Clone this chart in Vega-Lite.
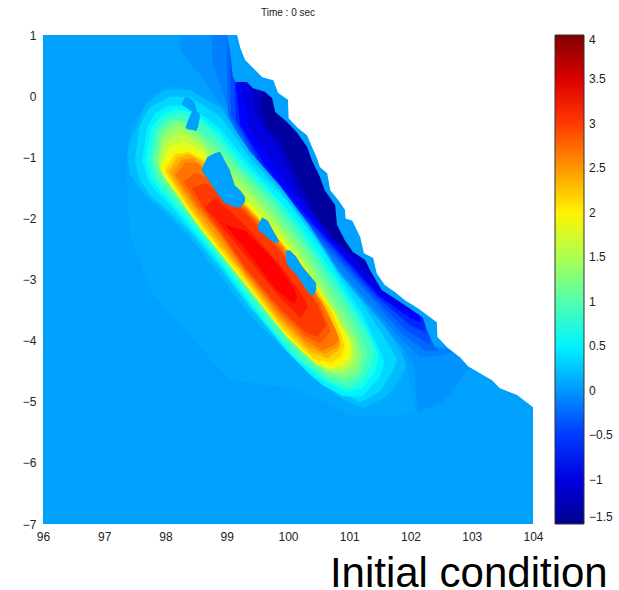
{"$schema":"https://vega.github.io/schema/vega-lite/v6.json","width":490,"height":489,"autosize":{"type":"none"},"padding":{"left":43,"top":35,"right":86,"bottom":66},"background":"white","view":{"stroke":null},"title":{"text":"Time : 0 sec","font":"Liberation Sans","fontSize":10,"fontWeight":"normal","color":"#222","anchor":"middle","offset":11},
"datasets":{"bands":[
{"b":"bg","v":0.05,"x":96,"y":-7,"t":1},{"b":"bg","v":0.05,"x":104,"y":-7,"t":1},
{"b":"h10","v":0.1,"x":97.36,"y":-1.13,"t":-1.13},{"b":"h10","v":0.1,"x":97.42,"y":-2.27,"t":-0.55},{"b":"h10","v":0.1,"x":97.75,"y":-3.17,"t":0.02},{"b":"h10","v":0.1,"x":98.16,"y":-3.66,"t":0.18},{"b":"h10","v":0.1,"x":99.05,"y":-4.65,"t":-0.23},{"b":"h10","v":0.1,"x":100.11,"y":-4.78,"t":-1.7},{"b":"h10","v":0.1,"x":101.01,"y":-5.22,"t":-3.34},{"b":"h10","v":0.1,"x":101.83,"y":-5.22,"t":-3.99},{"b":"h10","v":0.1,"x":102.09,"y":-5.17,"t":-5.17},
{"b":"n002","v":-0.02,"x":98.24,"y":0.75,"t":1},{"b":"n002","v":-0.02,"x":98.56,"y":0.35,"t":1},{"b":"n002","v":-0.02,"x":98.97,"y":-0.23,"t":1},{"b":"n002","v":-0.02,"x":99.38,"y":-1.05,"t":1},{"b":"n002","v":-0.02,"x":100.2,"y":-2.19,"t":1},{"b":"n002","v":-0.02,"x":101.83,"y":-4.07,"t":1},{"b":"n002","v":-0.02,"x":102.06,"y":-4.4,"t":1},{"b":"n002","v":-0.02,"x":102.11,"y":-5.17,"t":1},{"b":"n002","v":-0.02,"x":102.53,"y":-5.01,"t":1},{"b":"n002","v":-0.02,"x":102.94,"y":-4.48,"t":1},{"b":"n002","v":-0.02,"x":102.97,"y":-4.45,"t":1},
{"b":"n012","v":-0.12,"x":98.76,"y":0.59,"t":1},{"b":"n012","v":-0.12,"x":98.97,"y":-0.06,"t":1},{"b":"n012","v":-0.12,"x":99.38,"y":-1.01,"t":1},{"b":"n012","v":-0.12,"x":100.2,"y":-2.11,"t":1},{"b":"n012","v":-0.12,"x":101.83,"y":-3.96,"t":1},{"b":"n012","v":-0.12,"x":102.16,"y":-4.27,"t":1},{"b":"n012","v":-0.12,"x":102.53,"y":-4.24,"t":1},{"b":"n012","v":-0.12,"x":102.68,"y":-4.19,"t":1},
{"b":"n025","v":-0.25,"x":99,"y":0.56,"t":1},{"b":"n025","v":-0.25,"x":99.02,"y":-0.31,"t":1},{"b":"n025","v":-0.25,"x":99.45,"y":-1.13,"t":1},{"b":"n025","v":-0.25,"x":100.02,"y":-1.83,"t":1},{"b":"n025","v":-0.25,"x":100.67,"y":-2.55,"t":1},{"b":"n025","v":-0.25,"x":101.33,"y":-3.27,"t":1},{"b":"n025","v":-0.25,"x":101.88,"y":-3.91,"t":1},{"b":"n025","v":-0.25,"x":102.24,"y":-4.16,"t":1},{"b":"n025","v":-0.25,"x":102.45,"y":-4.16,"t":1},
{"b":"n040","v":-0.4,"x":99.05,"y":0.5,"t":1},{"b":"n040","v":-0.4,"x":99.07,"y":-0.31,"t":1},{"b":"n040","v":-0.4,"x":99.5,"y":-1.13,"t":1},{"b":"n040","v":-0.4,"x":100.07,"y":-1.83,"t":1},{"b":"n040","v":-0.4,"x":100.73,"y":-2.55,"t":1},{"b":"n040","v":-0.4,"x":101.38,"y":-3.27,"t":1},{"b":"n040","v":-0.4,"x":101.93,"y":-3.83,"t":1},{"b":"n040","v":-0.4,"x":102.32,"y":-4.07,"t":1},
{"b":"n060","v":-0.6,"x":99.13,"y":0.23,"t":1},{"b":"n060","v":-0.6,"x":99.15,"y":-0.39,"t":1},{"b":"n060","v":-0.6,"x":99.56,"y":-1.13,"t":1},{"b":"n060","v":-0.6,"x":100.13,"y":-1.83,"t":1},{"b":"n060","v":-0.6,"x":100.79,"y":-2.55,"t":1},{"b":"n060","v":-0.6,"x":101.44,"y":-3.27,"t":1},{"b":"n060","v":-0.6,"x":101.99,"y":-3.75,"t":1},{"b":"n060","v":-0.6,"x":102.24,"y":-3.86,"t":1},
{"b":"n080","v":-0.8,"x":99.15,"y":0.2,"t":1},{"b":"n080","v":-0.8,"x":99.22,"y":-0.47,"t":1},{"b":"n080","v":-0.8,"x":99.62,"y":-1.13,"t":1},{"b":"n080","v":-0.8,"x":100.18,"y":-1.83,"t":1},{"b":"n080","v":-0.8,"x":100.83,"y":-2.55,"t":1},{"b":"n080","v":-0.8,"x":101.48,"y":-3.26,"t":1},{"b":"n080","v":-0.8,"x":101.99,"y":-3.63,"t":1},{"b":"n080","v":-0.8,"x":102.16,"y":-3.7,"t":1},
{"b":"n100","v":-1,"x":99.22,"y":0.2,"t":1},{"b":"n100","v":-1,"x":99.38,"y":-0.55,"t":1},{"b":"n100","v":-1,"x":99.71,"y":-1.05,"t":1},{"b":"n100","v":-1,"x":100.17,"y":-1.7,"t":1},{"b":"n100","v":-1,"x":100.65,"y":-2.27,"t":1},{"b":"n100","v":-1,"x":101.3,"y":-3.04,"t":1},{"b":"n100","v":-1,"x":101.83,"y":-3.47,"t":1},{"b":"n100","v":-1,"x":101.99,"y":-3.53,"t":1},
{"b":"n120","v":-1.2,"x":99.43,"y":0.02,"t":1},{"b":"n120","v":-1.2,"x":99.46,"y":-0.26,"t":1},{"b":"n120","v":-1.2,"x":99.87,"y":-0.88,"t":1},{"b":"n120","v":-1.2,"x":100.12,"y":-1.46,"t":1},{"b":"n120","v":-1.2,"x":100.42,"y":-1.95,"t":1},{"b":"n120","v":-1.2,"x":100.95,"y":-2.52,"t":1},{"b":"n120","v":-1.2,"x":101.34,"y":-2.93,"t":1},{"b":"n120","v":-1.2,"x":101.47,"y":-3.04,"t":1},
{"b":"n140","v":-1.4,"x":99.58,"y":-0.15,"t":1},{"b":"n140","v":-1.4,"x":99.62,"y":-0.47,"t":1},{"b":"n140","v":-1.4,"x":99.9,"y":-0.75,"t":1},{"b":"n140","v":-1.4,"x":100.1,"y":-1.21,"t":1},{"b":"n140","v":-1.4,"x":100.38,"y":-1.83,"t":1},{"b":"n140","v":-1.4,"x":100.75,"y":-2.36,"t":1},{"b":"n140","v":-1.4,"x":101.05,"y":-2.57,"t":1},{"b":"n140","v":-1.4,"x":101.11,"y":-2.58,"t":1},
{"b":"p20","v":0.2,"x":97.37,"y":-1,"t":-1},{"b":"p20","v":0.2,"x":97.42,"y":-1.29,"t":-0.72},{"b":"p20","v":0.2,"x":97.67,"y":-1.62,"t":-0.15},{"b":"p20","v":0.2,"x":97.99,"y":-1.9,"t":0.1},{"b":"p20","v":0.2,"x":98.4,"y":-2.31,"t":0.1},{"b":"p20","v":0.2,"x":98.89,"y":-2.93,"t":-0.19},{"b":"p20","v":0.2,"x":99.38,"y":-3.58,"t":-0.91},{"b":"p20","v":0.2,"x":99.87,"y":-4.07,"t":-1.47},{"b":"p20","v":0.2,"x":100.36,"y":-4.56,"t":-2.13},{"b":"p20","v":0.2,"x":100.85,"y":-4.94,"t":-2.9},{"b":"p20","v":0.2,"x":101.22,"y":-5.1,"t":-3.34},{"b":"p20","v":0.2,"x":101.58,"y":-4.94,"t":-3.76},{"b":"p20","v":0.2,"x":101.83,"y":-4.65,"t":-4.16},{"b":"p20","v":0.2,"x":101.93,"y":-4.4,"t":-4.4},
{"b":"p35","v":0.35,"x":97.5,"y":-1.05,"t":-1.05},{"b":"p35","v":0.35,"x":97.58,"y":-1.37,"t":-0.47},{"b":"p35","v":0.35,"x":97.75,"y":-1.62,"t":-0.18},{"b":"p35","v":0.35,"x":98.07,"y":-1.9,"t":-0.01},{"b":"p35","v":0.35,"x":98.4,"y":-2.22,"t":-0.01},{"b":"p35","v":0.35,"x":98.89,"y":-2.81,"t":-0.33},{"b":"p35","v":0.35,"x":99.38,"y":-3.47,"t":-1.01},{"b":"p35","v":0.35,"x":99.87,"y":-3.96,"t":-1.54},{"b":"p35","v":0.35,"x":100.36,"y":-4.45,"t":-2.18},{"b":"p35","v":0.35,"x":100.85,"y":-4.84,"t":-2.93},{"b":"p35","v":0.35,"x":101.18,"y":-5.01,"t":-3.34},{"b":"p35","v":0.35,"x":101.5,"y":-4.84,"t":-3.83},{"b":"p35","v":0.35,"x":101.7,"y":-4.52,"t":-4.16},{"b":"p35","v":0.35,"x":101.78,"y":-4.32,"t":-4.32},
{"b":"p50","v":0.5,"x":97.62,"y":-1.05,"t":-1.05},{"b":"p50","v":0.5,"x":97.7,"y":-1.34,"t":-0.52},{"b":"p50","v":0.5,"x":97.83,"y":-1.54,"t":-0.28},{"b":"p50","v":0.5,"x":98.07,"y":-1.78,"t":-0.15},{"b":"p50","v":0.5,"x":98.4,"y":-2.16,"t":-0.16},{"b":"p50","v":0.5,"x":98.89,"y":-2.76,"t":-0.52},{"b":"p50","v":0.5,"x":99.22,"y":-3.21,"t":-0.93},{"b":"p50","v":0.5,"x":99.54,"y":-3.63,"t":-1.29},{"b":"p50","v":0.5,"x":99.97,"y":-4.16,"t":-1.7},{"b":"p50","v":0.5,"x":100.36,"y":-4.56,"t":-2.22},{"b":"p50","v":0.5,"x":100.57,"y":-4.73,"t":-2.52},{"b":"p50","v":0.5,"x":100.9,"y":-4.91,"t":-3.06},{"b":"p50","v":0.5,"x":101.21,"y":-4.92,"t":-3.55},{"b":"p50","v":0.5,"x":101.5,"y":-4.6,"t":-4.16},{"b":"p50","v":0.5,"x":101.57,"y":-4.35,"t":-4.35},
{"b":"p70","v":0.7,"x":97.68,"y":-1.05,"t":-1.05},{"b":"p70","v":0.7,"x":97.76,"y":-1.34,"t":-0.55},{"b":"p70","v":0.7,"x":97.91,"y":-1.54,"t":-0.32},{"b":"p70","v":0.7,"x":98.15,"y":-1.8,"t":-0.21},{"b":"p70","v":0.7,"x":98.48,"y":-2.19,"t":-0.27},{"b":"p70","v":0.7,"x":98.89,"y":-2.7,"t":-0.62},{"b":"p70","v":0.7,"x":99.22,"y":-3.15,"t":-1.03},{"b":"p70","v":0.7,"x":99.67,"y":-3.75,"t":-1.5},{"b":"p70","v":0.7,"x":100.08,"y":-4.24,"t":-1.96},{"b":"p70","v":0.7,"x":100.52,"y":-4.62,"t":-2.57},{"b":"p70","v":0.7,"x":100.95,"y":-4.84,"t":-3.24},{"b":"p70","v":0.7,"x":101.21,"y":-4.78,"t":-3.65},{"b":"p70","v":0.7,"x":101.42,"y":-4.52,"t":-4.07},{"b":"p70","v":0.7,"x":101.48,"y":-4.27,"t":-4.27},
{"b":"p90","v":0.9,"x":97.75,"y":-1.05,"t":-1.05},{"b":"p90","v":0.9,"x":97.83,"y":-1.34,"t":-0.59},{"b":"p90","v":0.9,"x":97.99,"y":-1.54,"t":-0.36},{"b":"p90","v":0.9,"x":98.24,"y":-1.83,"t":-0.28},{"b":"p90","v":0.9,"x":98.56,"y":-2.22,"t":-0.39},{"b":"p90","v":0.9,"x":98.89,"y":-2.65,"t":-0.72},{"b":"p90","v":0.9,"x":99.22,"y":-3.09,"t":-1.13},{"b":"p90","v":0.9,"x":99.8,"y":-3.86,"t":-1.7},{"b":"p90","v":0.9,"x":100.2,"y":-4.32,"t":-2.22},{"b":"p90","v":0.9,"x":100.69,"y":-4.68,"t":-2.93},{"b":"p90","v":0.9,"x":101.01,"y":-4.78,"t":-3.42},{"b":"p90","v":0.9,"x":101.21,"y":-4.65,"t":-3.75},{"b":"p90","v":0.9,"x":101.34,"y":-4.43,"t":-3.99},{"b":"p90","v":0.9,"x":101.4,"y":-4.19,"t":-4.19},
{"b":"p108","v":1.08,"x":97.8,"y":-1.05,"t":-1.05},{"b":"p108","v":1.08,"x":97.88,"y":-1.31,"t":-0.59},{"b":"p108","v":1.08,"x":98.09,"y":-1.58,"t":-0.37},{"b":"p108","v":1.08,"x":98.38,"y":-1.92,"t":-0.44},{"b":"p108","v":1.08,"x":98.89,"y":-2.59,"t":-0.84},{"b":"p108","v":1.08,"x":99.22,"y":-3.01,"t":-1.21},{"b":"p108","v":1.08,"x":99.71,"y":-3.65,"t":-1.7},{"b":"p108","v":1.08,"x":100.24,"y":-4.26,"t":-2.37},{"b":"p108","v":1.08,"x":100.65,"y":-4.6,"t":-3},{"b":"p108","v":1.08,"x":100.97,"y":-4.69,"t":-3.5},{"b":"p108","v":1.08,"x":101.17,"y":-4.58,"t":-3.87},{"b":"p108","v":1.08,"x":101.3,"y":-4.22,"t":-4.22},
{"b":"p125","v":1.25,"x":97.86,"y":-1.05,"t":-1.05},{"b":"p125","v":1.25,"x":97.94,"y":-1.29,"t":-0.59},{"b":"p125","v":1.25,"x":98.19,"y":-1.62,"t":-0.39},{"b":"p125","v":1.25,"x":98.51,"y":-2.01,"t":-0.6},{"b":"p125","v":1.25,"x":98.89,"y":-2.52,"t":-0.96},{"b":"p125","v":1.25,"x":99.22,"y":-2.93,"t":-1.29},{"b":"p125","v":1.25,"x":99.62,"y":-3.45,"t":-1.7},{"b":"p125","v":1.25,"x":100.28,"y":-4.2,"t":-2.52},{"b":"p125","v":1.25,"x":100.6,"y":-4.52,"t":-3.06},{"b":"p125","v":1.25,"x":100.93,"y":-4.61,"t":-3.58},{"b":"p125","v":1.25,"x":101.14,"y":-4.52,"t":-3.99},{"b":"p125","v":1.25,"x":101.21,"y":-4.24,"t":-4.24},
{"b":"p142","v":1.42,"x":97.87,"y":-1.09,"t":-1.09},{"b":"p142","v":1.42,"x":97.96,"y":-1.31,"t":-0.67},{"b":"p142","v":1.42,"x":98.21,"y":-1.63,"t":-0.49},{"b":"p142","v":1.42,"x":98.53,"y":-1.98,"t":-0.68},{"b":"p142","v":1.42,"x":98.93,"y":-2.52,"t":-1.12},{"b":"p142","v":1.42,"x":99.33,"y":-3.03,"t":-1.5},{"b":"p142","v":1.42,"x":99.87,"y":-3.72,"t":-2.11},{"b":"p142","v":1.42,"x":100.37,"y":-4.27,"t":-2.79},{"b":"p142","v":1.42,"x":100.68,"y":-4.52,"t":-3.32},{"b":"p142","v":1.42,"x":100.97,"y":-4.52,"t":-3.78},{"b":"p142","v":1.42,"x":101.11,"y":-4.38,"t":-4},{"b":"p142","v":1.42,"x":101.14,"y":-4.24,"t":-4.24},
{"b":"p160","v":1.6,"x":97.89,"y":-1.13,"t":-1.13},{"b":"p160","v":1.6,"x":97.99,"y":-1.34,"t":-0.75},{"b":"p160","v":1.6,"x":98.24,"y":-1.64,"t":-0.59},{"b":"p160","v":1.6,"x":98.56,"y":-1.95,"t":-0.77},{"b":"p160","v":1.6,"x":98.97,"y":-2.52,"t":-1.29},{"b":"p160","v":1.6,"x":99.45,"y":-3.14,"t":-1.7},{"b":"p160","v":1.6,"x":100.13,"y":-3.99,"t":-2.52},{"b":"p160","v":1.6,"x":100.46,"y":-4.35,"t":-3.06},{"b":"p160","v":1.6,"x":100.77,"y":-4.52,"t":-3.58},{"b":"p160","v":1.6,"x":101.01,"y":-4.43,"t":-3.99},{"b":"p160","v":1.6,"x":101.08,"y":-4.24,"t":-4.24},
{"b":"p180","v":1.8,"x":97.91,"y":-1.17,"t":-1.17},{"b":"p180","v":1.8,"x":98.05,"y":-1.42,"t":-0.83},{"b":"p180","v":1.8,"x":98.3,"y":-1.75,"t":-0.73},{"b":"p180","v":1.8,"x":98.58,"y":-2.08,"t":-0.88},{"b":"p180","v":1.8,"x":99.12,"y":-2.78,"t":-1.5},{"b":"p180","v":1.8,"x":99.7,"y":-3.53,"t":-2.08},{"b":"p180","v":1.8,"x":100.3,"y":-4.18,"t":-2.8},{"b":"p180","v":1.8,"x":100.62,"y":-4.47,"t":-3.33},{"b":"p180","v":1.8,"x":100.87,"y":-4.42,"t":-3.76},{"b":"p180","v":1.8,"x":101.02,"y":-4.28,"t":-3.98},{"b":"p180","v":1.8,"x":101.04,"y":-4.17,"t":-4.17},
{"b":"p200","v":2,"x":97.94,"y":-1.21,"t":-1.21},{"b":"p200","v":2,"x":98.12,"y":-1.49,"t":-0.91},{"b":"p200","v":2,"x":98.35,"y":-1.86,"t":-0.88},{"b":"p200","v":2,"x":98.61,"y":-2.22,"t":-1},{"b":"p200","v":2,"x":99.27,"y":-3.04,"t":-1.7},{"b":"p200","v":2,"x":99.98,"y":-3.94,"t":-2.47},{"b":"p200","v":2,"x":100.47,"y":-4.4,"t":-3.12},{"b":"p200","v":2,"x":100.77,"y":-4.43,"t":-3.55},{"b":"p200","v":2,"x":100.93,"y":-4.32,"t":-3.91},{"b":"p200","v":2,"x":100.98,"y":-4.11,"t":-4.11},
{"b":"p215","v":2.18,"x":97.99,"y":-1.22,"t":-1.22},{"b":"p215","v":2.18,"x":98.16,"y":-1.5,"t":-0.95},{"b":"p215","v":2.18,"x":98.38,"y":-1.83,"t":-0.92},{"b":"p215","v":2.18,"x":98.62,"y":-2.17,"t":-1.05},{"b":"p215","v":2.18,"x":99.25,"y":-2.95,"t":-1.7},{"b":"p215","v":2.18,"x":99.92,"y":-3.82,"t":-2.42},{"b":"p215","v":2.18,"x":100.42,"y":-4.3,"t":-3.09},{"b":"p215","v":2.18,"x":100.71,"y":-4.36,"t":-3.52},{"b":"p215","v":2.18,"x":100.88,"y":-4.24,"t":-3.93},{"b":"p215","v":2.18,"x":100.92,"y":-4.08,"t":-4.08},
{"b":"p230","v":2.36,"x":98.04,"y":-1.24,"t":-1.24},{"b":"p230","v":2.36,"x":98.2,"y":-1.5,"t":-1},{"b":"p230","v":2.36,"x":98.4,"y":-1.8,"t":-0.95},{"b":"p230","v":2.36,"x":98.64,"y":-2.13,"t":-1.09},{"b":"p230","v":2.36,"x":99.22,"y":-2.85,"t":-1.7},{"b":"p230","v":2.36,"x":99.87,"y":-3.7,"t":-2.37},{"b":"p230","v":2.36,"x":100.36,"y":-4.19,"t":-3.06},{"b":"p230","v":2.36,"x":100.65,"y":-4.29,"t":-3.5},{"b":"p230","v":2.36,"x":100.82,"y":-4.16,"t":-3.96},{"b":"p230","v":2.36,"x":100.87,"y":-4.06,"t":-4.06},
{"b":"p245","v":2.52,"x":98.1,"y":-1.26,"t":-1.26},{"b":"p245","v":2.52,"x":98.26,"y":-1.52,"t":-1.04},{"b":"p245","v":2.52,"x":98.46,"y":-1.81,"t":-1.02},{"b":"p245","v":2.52,"x":98.72,"y":-2.15,"t":-1.23},{"b":"p245","v":2.52,"x":99.26,"y":-2.87,"t":-1.76},{"b":"p245","v":2.52,"x":99.87,"y":-3.64,"t":-2.4},{"b":"p245","v":2.52,"x":100.32,"y":-4.09,"t":-3.01},{"b":"p245","v":2.52,"x":100.6,"y":-4.22,"t":-3.45},{"b":"p245","v":2.52,"x":100.8,"y":-4.11,"t":-3.88},{"b":"p245","v":2.52,"x":100.85,"y":-4.01,"t":-4.01},
{"b":"p260","v":2.68,"x":98.16,"y":-1.29,"t":-1.29},{"b":"p260","v":2.68,"x":98.32,"y":-1.54,"t":-1.09},{"b":"p260","v":2.68,"x":98.51,"y":-1.82,"t":-1.09},{"b":"p260","v":2.68,"x":98.81,"y":-2.16,"t":-1.37},{"b":"p260","v":2.68,"x":99.3,"y":-2.88,"t":-1.82},{"b":"p260","v":2.68,"x":99.87,"y":-3.58,"t":-2.44},{"b":"p260","v":2.68,"x":100.28,"y":-3.99,"t":-2.96},{"b":"p260","v":2.68,"x":100.56,"y":-4.16,"t":-3.39},{"b":"p260","v":2.68,"x":100.77,"y":-4.07,"t":-3.8},{"b":"p260","v":2.68,"x":100.83,"y":-3.96,"t":-3.96},
{"b":"p275","v":2.84,"x":98.3,"y":-1.4,"t":-1.4},{"b":"p275","v":2.84,"x":98.48,"y":-1.7,"t":-1.25},{"b":"p275","v":2.84,"x":98.7,"y":-2,"t":-1.33},{"b":"p275","v":2.84,"x":98.85,"y":-2.18,"t":-1.47},{"b":"p275","v":2.84,"x":99.3,"y":-2.84,"t":-1.86},{"b":"p275","v":2.84,"x":99.87,"y":-3.52,"t":-2.48},{"b":"p275","v":2.84,"x":100.28,"y":-3.92,"t":-3.05},{"b":"p275","v":2.84,"x":100.52,"y":-4.05,"t":-3.4},{"b":"p275","v":2.84,"x":100.7,"y":-3.85,"t":-3.85},
{"b":"p290","v":3,"x":98.43,"y":-1.5,"t":-1.5},{"b":"p290","v":3,"x":98.64,"y":-1.86,"t":-1.42},{"b":"p290","v":3,"x":98.89,"y":-2.19,"t":-1.57},{"b":"p290","v":3,"x":99.3,"y":-2.8,"t":-1.9},{"b":"p290","v":3,"x":99.87,"y":-3.47,"t":-2.52},{"b":"p290","v":3,"x":100.28,"y":-3.86,"t":-3.14},{"b":"p290","v":3,"x":100.49,"y":-3.94,"t":-3.42},{"b":"p290","v":3,"x":100.62,"y":-3.75,"t":-3.75},
{"b":"p315","v":3.16,"x":98.64,"y":-1.82,"t":-1.82},{"b":"p315","v":3.16,"x":98.81,"y":-2,"t":-1.67},{"b":"p315","v":3.16,"x":99.3,"y":-2.6,"t":-2.11},{"b":"p315","v":3.16,"x":99.87,"y":-3.3,"t":-2.76},{"b":"p315","v":3.16,"x":100.2,"y":-3.63,"t":-3.21},{"b":"p315","v":3.16,"x":100.33,"y":-3.44,"t":-3.44},
{"b":"p330","v":3.3,"x":98.97,"y":-2.1,"t":-2.1},{"b":"p330","v":3.3,"x":99.3,"y":-2.5,"t":-2.2},{"b":"p330","v":3.3,"x":99.79,"y":-3.15,"t":-2.7},{"b":"p330","v":3.3,"x":100.1,"y":-3.4,"t":-3.15},{"b":"p330","v":3.3,"x":100.15,"y":-3.3,"t":-3.3},
{"b":"strip","v":0.05,"x":99,"y":1,"t":1},{"b":"strip","v":0.05,"x":99.05,"y":0.75,"t":1},{"b":"strip","v":0.05,"x":99.1,"y":0.32,"t":1},{"b":"strip","v":0.05,"x":99.14,"y":0.23,"t":1},{"b":"strip","v":0.05,"x":99.33,"y":0.23,"t":1},{"b":"strip","v":0.05,"x":99.43,"y":0.13,"t":1},{"b":"strip","v":0.05,"x":99.62,"y":0.07,"t":1},{"b":"strip","v":0.05,"x":99.74,"y":-0.03,"t":1},{"b":"strip","v":0.05,"x":99.79,"y":-0.26,"t":1},{"b":"strip","v":0.05,"x":99.98,"y":-0.42,"t":1},{"b":"strip","v":0.05,"x":100.15,"y":-0.6,"t":1},{"b":"strip","v":0.05,"x":100.31,"y":-0.83,"t":1},{"b":"strip","v":0.05,"x":100.39,"y":-1.05,"t":1},{"b":"strip","v":0.05,"x":100.52,"y":-1.32,"t":1},{"b":"strip","v":0.05,"x":100.6,"y":-1.54,"t":1},{"b":"strip","v":0.05,"x":100.77,"y":-1.78,"t":1},{"b":"strip","v":0.05,"x":100.8,"y":-2.11,"t":1},{"b":"strip","v":0.05,"x":100.93,"y":-2.36,"t":1},{"b":"strip","v":0.05,"x":101.06,"y":-2.55,"t":1},{"b":"strip","v":0.05,"x":101.26,"y":-2.68,"t":1},{"b":"strip","v":0.05,"x":101.34,"y":-2.85,"t":1},{"b":"strip","v":0.05,"x":101.53,"y":-3.17,"t":1},{"b":"strip","v":0.05,"x":101.91,"y":-3.42,"t":1},{"b":"strip","v":0.05,"x":102.2,"y":-3.62,"t":1},{"b":"strip","v":0.05,"x":102.27,"y":-3.83,"t":1},{"b":"strip","v":0.05,"x":102.4,"y":-4.11,"t":1},{"b":"strip","v":0.05,"x":102.65,"y":-4.14,"t":1},{"b":"strip","v":0.05,"x":102.97,"y":-4.47,"t":1},
{"b":"isA1","v":0.05,"x":98.27,"y":-0.15,"t":-0.11},{"b":"isA1","v":0.05,"x":98.33,"y":-0.18,"t":-0.01},{"b":"isA1","v":0.05,"x":98.4,"y":-0.23,"t":-0.03},{"b":"isA1","v":0.05,"x":98.47,"y":-0.28,"t":-0.1},{"b":"isA1","v":0.05,"x":98.5,"y":-0.26,"t":-0.19},
{"b":"isA2","v":0.05,"x":98.33,"y":-0.52,"t":-0.51},{"b":"isA2","v":0.05,"x":98.38,"y":-0.55,"t":-0.36},{"b":"isA2","v":0.05,"x":98.43,"y":-0.55,"t":-0.26},{"b":"isA2","v":0.05,"x":98.5,"y":-0.57,"t":-0.23},{"b":"isA2","v":0.05,"x":98.53,"y":-0.51,"t":-0.26},{"b":"isA2","v":0.05,"x":98.56,"y":-0.36,"t":-0.29},
{"b":"isB","v":0.05,"x":98.6,"y":-1.24,"t":-1.18},{"b":"isB","v":0.05,"x":98.68,"y":-1.34,"t":-1},{"b":"isB","v":0.05,"x":98.81,"y":-1.54,"t":-0.93},{"b":"isB","v":0.05,"x":98.89,"y":-1.65,"t":-0.91},{"b":"isB","v":0.05,"x":98.97,"y":-1.75,"t":-1.06},{"b":"isB","v":0.05,"x":99.05,"y":-1.78,"t":-1.21},{"b":"isB","v":0.05,"x":99.13,"y":-1.82,"t":-1.46},{"b":"isB","v":0.05,"x":99.22,"y":-1.82,"t":-1.54},{"b":"isB","v":0.05,"x":99.3,"y":-1.73,"t":-1.65},
{"b":"isD","v":0.05,"x":99.51,"y":-2.19,"t":-2.11},{"b":"isD","v":0.05,"x":99.58,"y":-2.24,"t":-1.98},{"b":"isD","v":0.05,"x":99.67,"y":-2.32,"t":-2.04},{"b":"isD","v":0.05,"x":99.77,"y":-2.39,"t":-2.22},{"b":"isD","v":0.05,"x":99.85,"y":-2.4,"t":-2.36},
{"b":"isE","v":0.05,"x":99.97,"y":-2.72,"t":-2.52},{"b":"isE","v":0.05,"x":100.03,"y":-2.81,"t":-2.52},{"b":"isE","v":0.05,"x":100.13,"y":-2.91,"t":-2.62},{"b":"isE","v":0.05,"x":100.23,"y":-3.06,"t":-2.78},{"b":"isE","v":0.05,"x":100.33,"y":-3.21,"t":-2.9},{"b":"isE","v":0.05,"x":100.42,"y":-3.27,"t":-3.01},{"b":"isE","v":0.05,"x":100.46,"y":-3.17,"t":-3.06}
],"land":[
{"x":99.17,"y":1},{"x":99.22,"y":0.79},{"x":99.3,"y":0.59},{"x":99.43,"y":0.46},{"x":99.58,"y":0.31},{"x":99.76,"y":0.26},{"x":99.84,"y":0.05},{"x":100,"y":-0.06},{"x":100.01,"y":-0.36},{"x":100.16,"y":-0.52},{"x":100.31,"y":-0.64},{"x":100.39,"y":-0.83},{"x":100.47,"y":-1.01},{"x":100.52,"y":-1.16},{"x":100.64,"y":-1.26},{"x":100.69,"y":-1.54},{"x":100.82,"y":-1.7},{"x":100.93,"y":-1.86},{"x":100.94,"y":-2},{"x":101.05,"y":-2.04},{"x":101.18,"y":-2.31},{"x":101.24,"y":-2.57},{"x":101.39,"y":-2.65},{"x":101.45,"y":-2.9},{"x":101.58,"y":-3.09},{"x":101.75,"y":-3.21},{"x":101.91,"y":-3.34},{"x":102.12,"y":-3.47},{"x":102.43,"y":-3.7},{"x":102.44,"y":-3.94},{"x":102.61,"y":-4.12},{"x":102.81,"y":-4.27},{"x":102.94,"y":-4.42},{"x":103.33,"y":-4.65},{"x":103.46,"y":-4.78},{"x":103.74,"y":-4.89},{"x":104,"y":-5.09}
],"note":[{"x":105.22,"y":-7.81,"label":"Initial condition"}]},
"layer":[
{"data":{"name":"bands"},"mark":{"type":"area","clip":true,"interpolate":"linear"},"encoding":{"x":{"field":"x","type":"quantitative","scale":{"domain":[96,104],"nice":false,"zero":false},"axis":{"values":[96,97,98,99,100,101,102,103,104],"title":null,"grid":false,"domain":false,"ticks":false,"labelFont":"Liberation Sans","labelFontSize":12,"labelColor":"#222","labelPadding":7,"labelFlush":false,"format":"d"}},"y":{"field":"y","type":"quantitative","scale":{"domain":[-7,1],"nice":false,"zero":false},"axis":{"values":[-7,-6,-5,-4,-3,-2,-1,0,1],"title":null,"grid":false,"domain":false,"ticks":false,"labelFont":"Liberation Sans","labelFontSize":12,"labelColor":"#222","labelPadding":7,"labelFlush":false,"format":"d"}},"y2":{"field":"t"},"detail":{"field":"b"},"color":{"field":"v","type":"quantitative","scale":{"domain":[-1.5,-0.8125,0.5625,1.9375,3.3125,4],"range":["#00008f","#0000ff","#00ffff","#ffff00","#ff0000","#800000"],"interpolate":"rgb"},"legend":{"orient":"none","legendX":512,"legendY":0,"direction":"vertical","title":null,"gradientLength":489,"gradientThickness":29,"gradientStrokeColor":"#333","gradientStrokeWidth":1,"values":[-1.5,-1,-0.5,0,0.5,1,1.5,2,2.5,3,3.5,4],"format":"~g","labelFont":"Liberation Sans","labelFontSize":12,"labelColor":"#222","labelOverlap":false,"labelOffset":5}}}},
{"data":{"name":"land"},"mark":{"type":"area","clip":true,"color":"white","interpolate":"linear"},"encoding":{"x":{"field":"x","type":"quantitative"},"y":{"field":"y","type":"quantitative"},"y2":{"datum":1}}},
{"data":{"name":"note"},"mark":{"type":"text","align":"right","baseline":"middle","font":"Liberation Sans","fontSize":42,"color":"black"},"encoding":{"x":{"field":"x","type":"quantitative"},"y":{"field":"y","type":"quantitative"},"text":{"field":"label"}}}
]}
